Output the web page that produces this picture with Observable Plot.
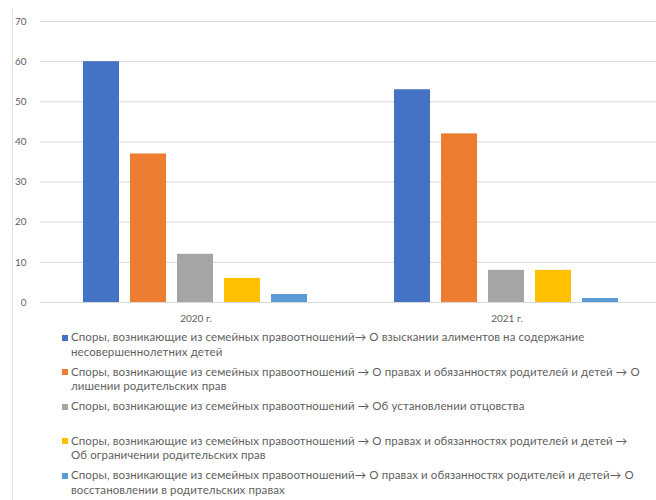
<!DOCTYPE html>
<html><head><meta charset="utf-8">
<script src="https://cdn.jsdelivr.net/npm/d3@7"></script>
<script src="https://cdn.jsdelivr.net/npm/@observablehq/plot@0.6"></script>
<style>
body{margin:0;background:#fff;font-family:Lato,sans-serif;}
#wrap{position:relative;width:656px;height:500px;overflow:hidden;}
#vline{position:absolute;left:12px;top:8px;width:1px;height:492px;background:#e3e3e3;}
#chart svg{display:block;overflow:hidden;}
.legend{margin-left:62px;color:#5f5f5f;font-size:11.5px;letter-spacing:0.1px;}
.item{display:flex;line-height:14.5px;height:29px;margin-bottom:5.5px;white-space:nowrap;}
.sw{width:6px;height:6px;margin-top:4.5px;margin-right:3px;flex:none;}
</style></head>
<body><div id="wrap"><div id="vline"></div><div id="chart"></div><div class="legend" id="legend"></div></div>
<script>
const years = ["2020 г.", "2021 г."];
const seriesNames = [
  "Споры, возникающие из семейных правоотношений→ О взыскании алиментов на содержание\nнесовершеннолетних детей",
  "Споры, возникающие из семейных правоотношений → О правах и обязанностях родителей и детей → О\nлишении родительских прав",
  "Споры, возникающие из семейных правоотношений → Об установлении отцовства",
  "Споры, возникающие из семейных правоотношений → О правах и обязанностях родителей и детей →\nОб ограничении родительских прав",
  "Споры, возникающие из семейных правоотношений→ О правах и обязанностях родителей и детей→ О\nвосстановлении в родительских правах"
];
const seriesColors = ["#4472C4", "#ED7D31", "#A5A5A5", "#FFC000", "#5B9BD5"];
const values2020 = [60, 37, 12, 6, 2];
const values2021 = [53, 42, 8, 8, 1];
const yTicks = [0, 10, 20, 30, 40, 50, 60, 70];

const seriesKeys = d3.range(seriesNames.length);
const rows = [];
[values2020, values2021].forEach((vals, yi) => {
  vals.forEach((v, s) => rows.push({year: years[yi], s, value: v}));
});

const chart = Plot.plot({
  width: 656, height: 330,
  marginTop: 21, marginBottom: 28, marginLeft: 40, marginRight: -6,
  style: {fontFamily: "Lato, sans-serif", fontSize: "10px", color: "#5f5f5f", background: "transparent"},
  facet: {data: rows, x: "year"},
  fx: {domain: years, padding: 0, label: null, tickSize: 0, tickPadding: 12, axis: "bottom"},
  x: {domain: seriesKeys, paddingInner: 0.23, paddingOuter: 0.855, axis: null},
  y: {domain: [0, 70], ticks: yTicks, tickSize: 0, tickPadding: 14, label: null},
  color: {domain: seriesKeys, range: seriesColors},
  marks: [
    Plot.ruleY(yTicks, {stroke: "#d9d9d9", strokeWidth: 1}),
    Plot.barY(rows, {x: "s", y: "value", fill: "s"})
  ]
});
document.getElementById("chart").appendChild(chart);

const legend = document.getElementById("legend");
seriesNames.forEach((name, i) => {
  const item = document.createElement("div");
  item.className = "item";
  const sw = document.createElement("div");
  sw.className = "sw";
  sw.style.background = seriesColors[i];
  const txt = document.createElement("div");
  txt.innerHTML = name.split("\n").join("<br>");
  item.appendChild(sw);
  item.appendChild(txt);
  legend.appendChild(item);
});
</script>
</body></html>
